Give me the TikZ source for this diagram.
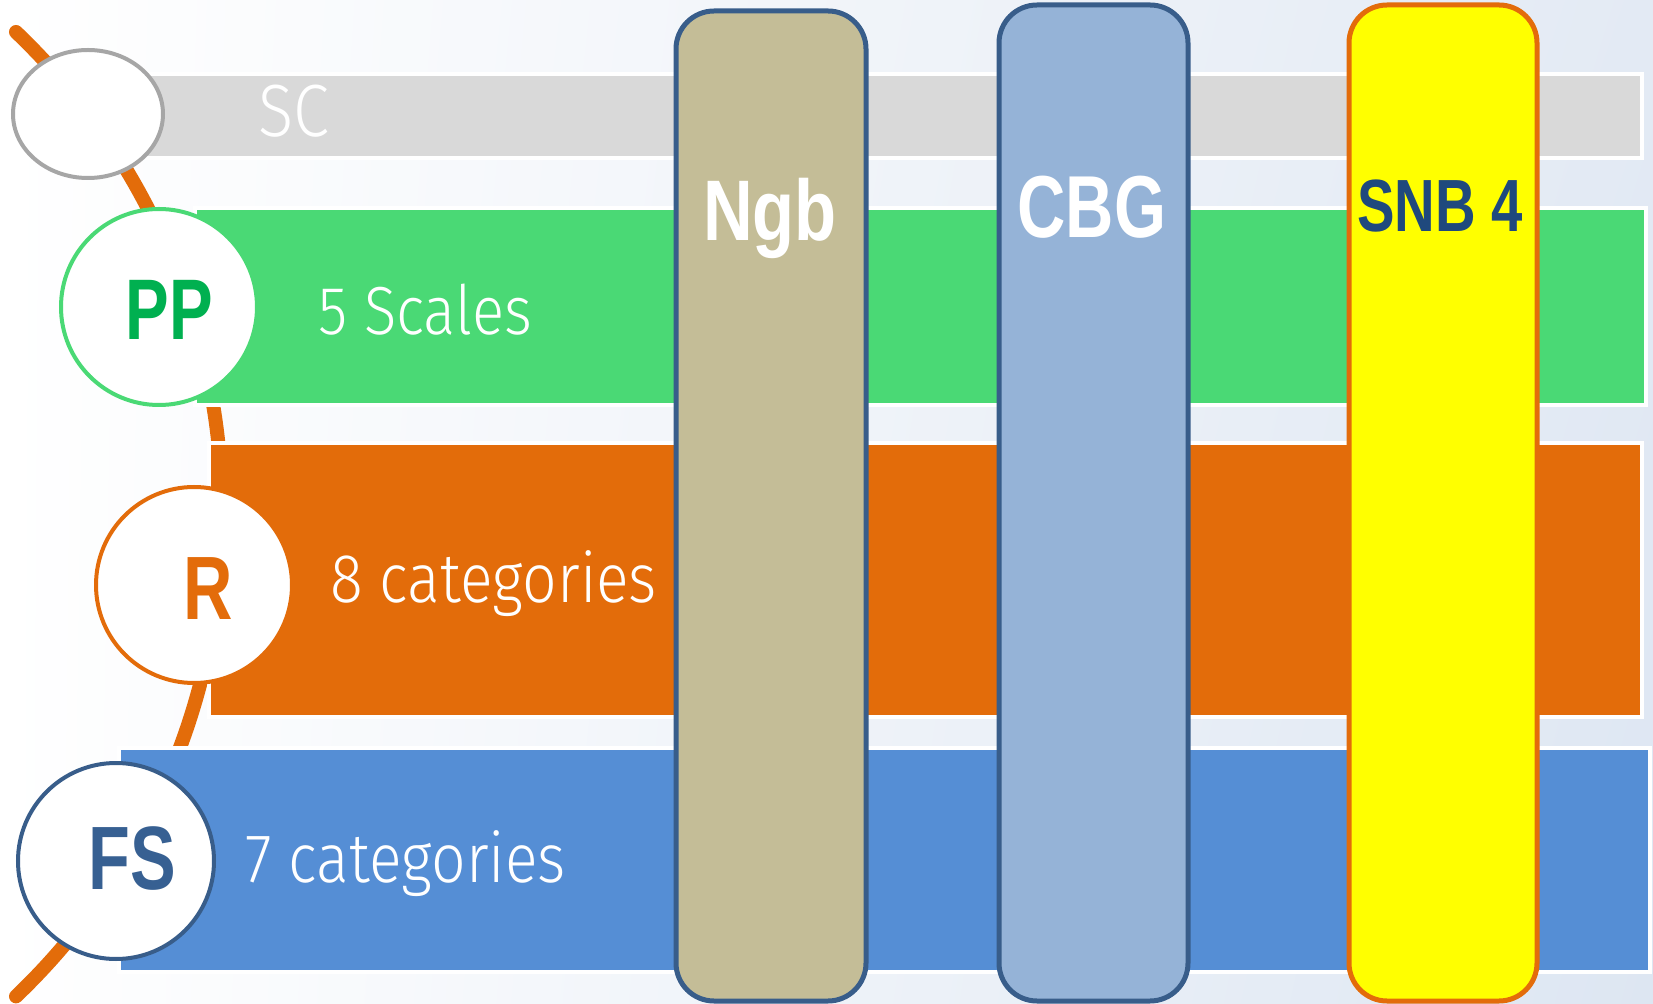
\documentclass[tikz,border=0pt]{standalone}
\usepackage{fontspec}
\setmainfont{Liberation Sans}
\newfontfamily\labelfont[FakeStretch=0.76]{Liberation Sans}
\newfontfamily\pillarfont[FakeStretch=0.8]{Liberation Sans}
\newfontfamily\thinfont[FakeStretch=0.88]{Fira Sans Light}
\usetikzlibrary{shapes.geometric,fit,shadings}

\definecolor{bandgrey}{HTML}{D9D9D9}
\definecolor{bandgreen}{RGB}{74,217,117}
\definecolor{bandorange}{HTML}{E36C0A}
\definecolor{bandblue}{HTML}{558ED5}
\definecolor{ngbfill}{HTML}{C4BD97}
\definecolor{cbgfill}{HTML}{95B3D7}
\definecolor{snbfill}{HTML}{FFFF00}
\definecolor{pillarline}{HTML}{385D8A}
\definecolor{ppgreen}{HTML}{00B050}
\definecolor{fsblue}{HTML}{376092}
\definecolor{snbnavy}{HTML}{1F497D}
\definecolor{ringgrey}{HTML}{A6A6A6}
\definecolor{bgtintA}{RGB}{227,234,244}
\definecolor{bgtintC}{RGB}{221,230,242}

\tikzset{
  band/.style={draw=white, line width=2pt, inner sep=0pt},
  ring/.style={circle, fill=white, line width=2pt, minimum size=98pt, inner sep=0pt},
  pillar/.style={rounded corners=19pt, line width=2.5pt, inner sep=0pt},
  biglabel/.style={anchor=base, inner sep=0pt, font=\labelfont\bfseries},
  thinlabel/.style={anchor=base west, inner sep=0pt, text=white},
  arcline/.style={draw=bandorange, line width=7pt, line cap=round}
}

\begin{document}
\begin{tikzpicture}[x=0.5pt,y=-0.5pt]
\useasboundingbox (0,0) rectangle (1653,1004);

% soft backdrop, white on the left fading to a pale blue on the right
\shade[upper left=white, upper right=bgtintA, lower left=white, lower right=bgtintC]
  (0,0) rectangle (1653,1004);

% curved spine linking the rings
\coordinate (spineTop) at (16,32);
\draw[arcline] (spineTop) arc[start angle=-46.3, end angle=46.3, radius=667];

% horizontal bands
\node[band, fill=bandgrey,   fit={(130,74) (1642,158)}]  (scBand) {};
\node[band, fill=bandgreen,  fit={(195,208) (1646,405)}] (ppBand) {};
\node[band, fill=bandorange, fit={(209,443) (1642,717)}] (rBand) {};
\node[band, fill=bandblue,   fit={(119,748) (1650,972)}] (fsBand) {};

% rings on the spine
\node[ellipse, draw=ringgrey, fill=white, line width=2pt, minimum width=75pt, minimum height=64pt] (scRing) at (88,114) {};
\node[ring, draw=bandgreen]  (ppRing) at (159,307) {};
\node[ring, draw=bandorange] (rRing)  at (194,585) {};
\node[ring, draw=pillarline] (fsRing) at (116,861) {};

\node[biglabel, text=ppgreen, font=\labelfont\bfseries\fontsize{43pt}{43pt}\selectfont] (ppText) at (169,340) {PP};
\node[biglabel, text=bandorange, font=\labelfont\bfseries\fontsize{45pt}{45pt}\selectfont] (rText) at (208,619) {R};
\node[biglabel, text=fsblue, font=\labelfont\bfseries\fontsize{45pt}{45pt}\selectfont] (fsText) at (132,889) {FS};

% band captions
\node[thinlabel, font=\thinfont\fontsize{37pt}{37pt}\selectfont] (scText) at (258,137) {SC};
\node[thinlabel, font=\thinfont\fontsize{34pt}{34pt}\selectfont] (ppCaption) at (318,335) {5 Scales};
\node[thinlabel, font=\thinfont\fontsize{34.5pt}{34.5pt}\selectfont] (rCaption) at (330,603) {8 categories};
\node[thinlabel, font=\thinfont\fontsize{34.5pt}{34.5pt}\selectfont] (fsCaption) at (245,882) {7 categories};

% vertical pillars
\node[pillar, fill=ngbfill, draw=pillarline, minimum width=95pt, minimum height=495pt] (ngb) at (771,506) {};
\node[pillar, fill=cbgfill, draw=pillarline, minimum width=94.5pt, minimum height=498pt] (cbg) at (1093.5,503) {};
\node[pillar, fill=snbfill, draw=bandorange, minimum width=94pt, minimum height=498pt] (snb) at (1443,503) {};

\node[anchor=base, inner sep=0pt, text=white, font=\pillarfont\bfseries\fontsize{43pt}{43pt}\selectfont] (ngbText) at (770,241) {Ngb};
\node[biglabel, text=white, font=\labelfont\bfseries\fontsize{44pt}{44pt}\selectfont] (cbgText) at (1092,238) {CBG};
\node[biglabel, text=snbnavy, font=\labelfont\bfseries\fontsize{37pt}{37pt}\selectfont] (snbText) at (1440,232) {SNB 4};
\end{tikzpicture}
\end{document}
